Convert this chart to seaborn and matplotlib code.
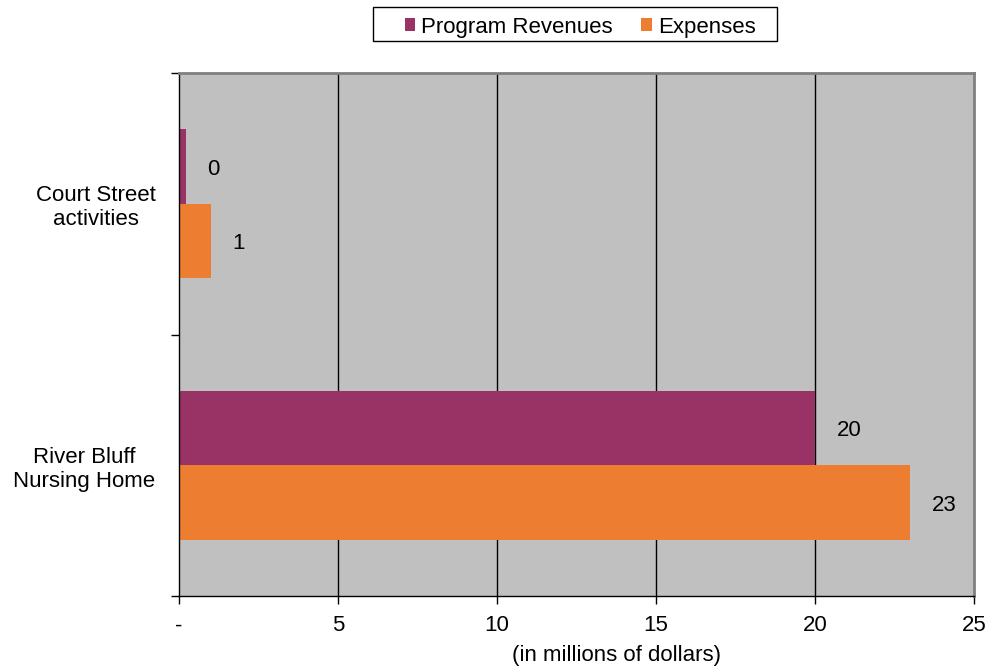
import matplotlib
matplotlib.use("Agg")
import matplotlib.pyplot as plt
import seaborn as sns
import pandas as pd
from matplotlib.patches import Patch, Rectangle

categories = ["Court Street\nactivities", "River Bluff\nNursing Home"]
series = ["Program Revenues", "Expenses"]
revenues = [0.22, 20.0]
expenses = [1.0, 23.0]
value_labels_rev = ["0", "20"]
value_labels_exp = ["1", "23"]
xticks = [0, 5, 10, 15, 20, 25]
xtick_labels = ["-", "5", "10", "15", "20", "25"]
colors = ["#993366", "#ED7D31"]

df = pd.DataFrame({
    "category": categories * 2,
    "series": [series[0]] * 2 + [series[1]] * 2,
    "value": revenues + expenses,
})

sns.set_style("white")
plt.rcParams["font.family"] = ["Liberation Sans", "DejaVu Sans"]
plt.rcParams["text.color"] = "black"
plt.rcParams["xtick.color"] = "black"
plt.rcParams["ytick.color"] = "black"

FS = 16

fig = plt.figure(figsize=(9.86, 6.68), dpi=100)
ax = fig.add_axes([179/986, 1-596/668, (974-179)/986, (596-73)/668])
ax.set_facecolor("#C0C0C0")

sns.barplot(data=df, y="category", x="value", hue="series", orient="h",
            palette=colors, width=0.57, ax=ax, legend=False, saturation=1,
            edgecolor="none", linewidth=0)

ax.set_xlim(0, 25)
ax.set_ylim(1.5, -0.5)
ax.set_xticks(xticks)
ax.set_xticklabels(xtick_labels, fontsize=FS)
for x in xticks[1:-1]:
    ax.axvline(x, color="black", lw=1, zorder=0.5)
ax.set_axisbelow(True)

ax.set_yticks([0, 1])
ax.set_yticklabels(categories, fontsize=FS, multialignment="center")
ax.set_yticks([-0.5, 0.5, 1.5], minor=True)
ax.tick_params(axis="y", which="major", left=True, length=0, pad=17)
ax.tick_params(axis="y", which="minor", left=True, length=6, width=1,
               color="black", direction="out")
ax.tick_params(axis="x", which="major", bottom=True, length=6, width=1,
               color="black", direction="out", pad=8)

ax.set_xlabel("")
ax.set_ylabel("")
for s in ["left", "bottom"]:
    ax.spines[s].set_color("black")
    ax.spines[s].set_linewidth(1)
for s in ["top", "right"]:
    ax.spines[s].set_color("#808080")
    ax.spines[s].set_linewidth(2)

labels = [value_labels_rev, value_labels_exp]
for ci, cont in enumerate(ax.containers):
    for bar, lab in zip(cont, labels[ci]):
        x = bar.get_x() + bar.get_width()
        y = bar.get_y() + bar.get_height() / 2
        ax.annotate(lab, (x, y), xytext=(15.5, -2), textcoords="offset points",
                    ha="left", va="center", fontsize=FS)

fig.text(617/986, 1-655/668, "(in millions of dollars)", ha="center", va="center", fontsize=FS)

handles = [Patch(facecolor=c, edgecolor="none") for c in colors]
leg = fig.legend(handles, series, loc="center", bbox_to_anchor=(580/986, 1-27/668),
                 ncol=2, frameon=False, fontsize=FS,
                 handlelength=0.48, handleheight=0.48, handletextpad=0.27,
                 columnspacing=1.27, borderpad=0.2)
fig.patches.append(Rectangle((373/986, 1-41/668), (777-373)/986, 34/668,
                             transform=fig.transFigure, facecolor="none",
                             edgecolor="black", linewidth=1))

fig.savefig("out.png", dpi=100)
